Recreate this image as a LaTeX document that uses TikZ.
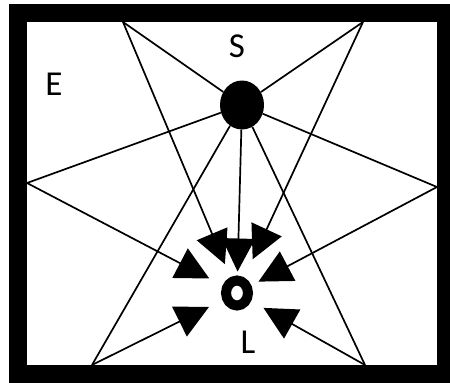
\documentclass[tikz,border=0pt]{standalone}
\usepackage{fontspec}
\setmainfont{Carlito}
\usetikzlibrary{arrows.meta, shapes.geometric}

\begin{document}
\begin{tikzpicture}[x=1pt, y=-1pt]
        \tikzstyle{ray} = [line width=1.7pt]
        \tikzstyle{hit} = [line width=1.7pt, -{Triangle[length=33pt, width=33pt]}]
        \tikzstyle{lbl} = [inner sep=0pt, font=\fontsize{35}{35}\selectfont]

        \clip (0,0) rectangle (450,383);
        \useasboundingbox (0,0) rectangle (450,383);

        % room walls
        \draw [line width=18pt] (18,12.5) rectangle (446,374);

        % reflection points on the walls
        \coordinate (wtl) at (123,22);
        \coordinate (wtr) at (363,22);
        \coordinate (wl) at (27,183);
        \coordinate (wr) at (437,187);
        \coordinate (wbl) at (92,365);
        \coordinate (wbr) at (365,365);

        \node [ellipse, fill=black, inner sep=0pt, minimum width=44pt, minimum height=49pt] (src) at (242,105) {};
        \node [ellipse, draw, line width=10pt, inner sep=0pt, minimum width=22pt, minimum height=25pt] (lis) at (237,293) {};

        \node [lbl] (s) at (237,46) {S};
        \node [lbl] (e) at (54,84) {E};
        \node [lbl] (l) at (248,342) {L};

        \foreach \w in {wtl, wtr, wl, wr, wbl, wbr}
            \draw [ray] (src) -- (\w);

        \draw [hit, shorten >=4pt] (src) -- (lis);
        \draw [hit, shorten >=14pt] (wtl) -- (lis);
        \draw [hit, shorten >=20pt] (wtr) -- (lis);
        \draw [hit, shorten >=15pt] (wl) -- (lis);
        \draw [hit, shorten >=8pt] (wr) -- (lis);
        \draw [hit, shorten >=15pt] (wbl) -- (lis);
        \draw [hit, shorten >=14pt] (wbr) -- (lis);
    \end{tikzpicture}
\end{document}
